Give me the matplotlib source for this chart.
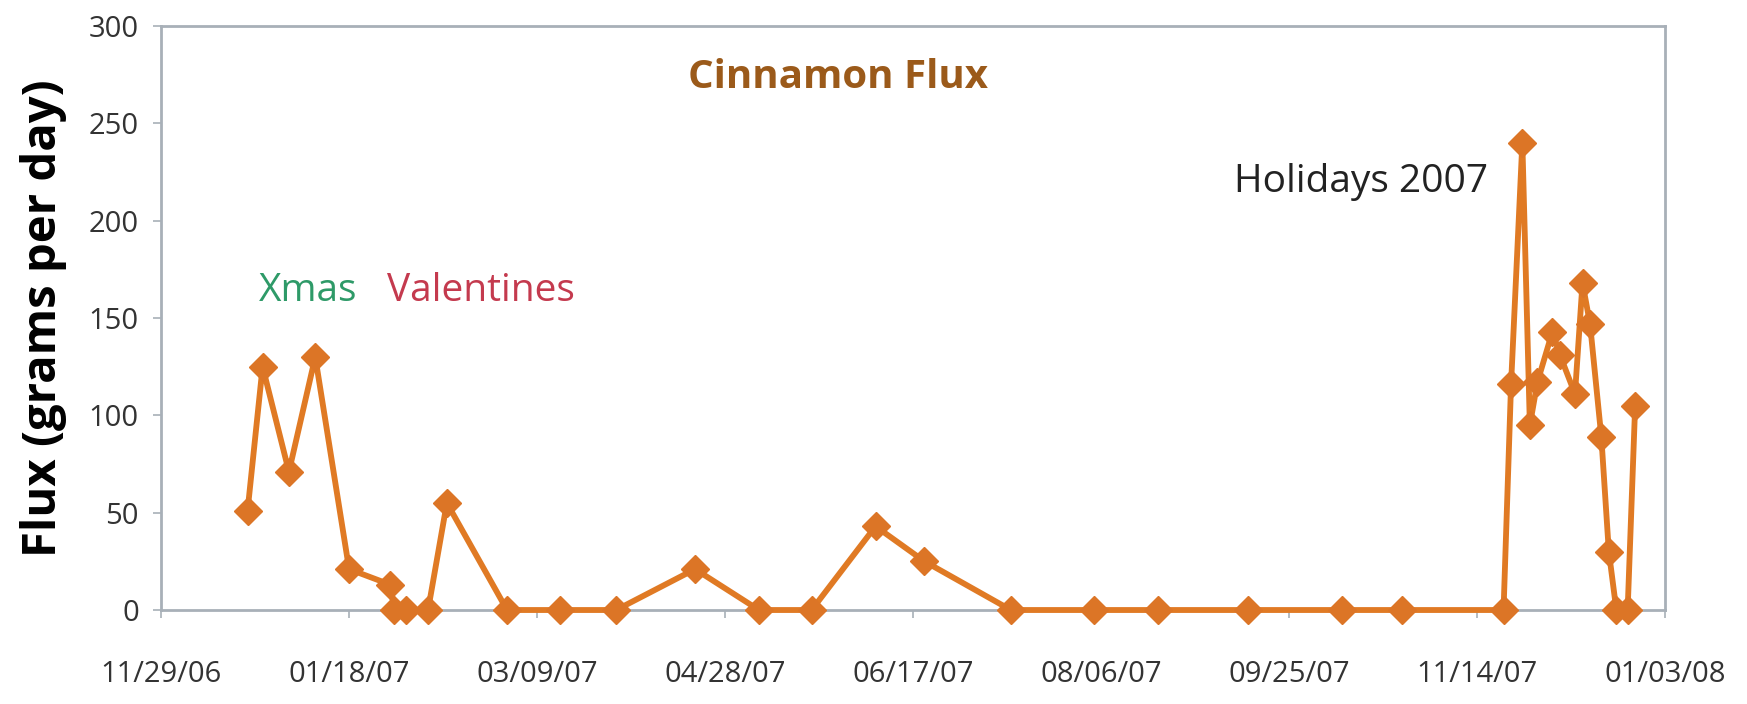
import numpy as np
import pandas as pd
import matplotlib
matplotlib.use("Agg")
import matplotlib.pyplot as plt
import matplotlib.dates as mdates

# cinnamon flux readings (grams per day)
dates = ["2006-12-22", "2006-12-26", "2007-01-02", "2007-01-09", "2007-01-18",
         "2007-01-29", "2007-01-30", "2007-02-02", "2007-02-08", "2007-02-13",
         "2007-03-01", "2007-03-15", "2007-03-30", "2007-04-20", "2007-05-07",
         "2007-05-21", "2007-06-07", "2007-06-20", "2007-07-13", "2007-08-04",
         "2007-08-21", "2007-09-14", "2007-10-09", "2007-10-25", "2007-11-21",
         "2007-11-23", "2007-11-26", "2007-11-28", "2007-11-30", "2007-12-04",
         "2007-12-06", "2007-12-10", "2007-12-12", "2007-12-14", "2007-12-17",
         "2007-12-19", "2007-12-21", "2007-12-24", "2007-12-26"]
flux = [51, 125, 71, 130, 21, 13, 0, 0, 0, 55,
        0, 0, 0, 21, 0, 0, 43, 25, 0, 0,
        0, 0, 0, 0, 0, 116, 240, 95, 117, 143,
        131, 111, 168, 147, 89, 30, 0, 0, 105]

notes = ["Xmas", "Valentines", "Holidays 2007"]
note_dates = ["2007-01-07", "2007-02-22", "2007-10-14"]
note_y = [164, 164, 220]
note_colors = ["#2E9A68", "#C43A4E", "#222222"]

x = pd.to_datetime(dates)

plt.rcParams['font.family'] = ['Open Sans', 'DejaVu Sans']
fig = plt.figure(figsize=(17.47, 7.04), dpi=100)
ax = fig.add_axes([0.0922, 0.1335, 0.861, 0.8295])

ax.plot(x, flux, color="#E07A24", lw=4.2, marker="D", markersize=14,
        markerfacecolor="#DC7526", markeredgecolor="#DC7526", clip_on=False,
        zorder=3)

start = pd.Timestamp("2006-11-29")
ticks = [start + pd.Timedelta(days=50 * i) for i in range(9)]
ax.set_xlim(ticks[0], ticks[-1])
ax.set_xticks(ticks)
ax.xaxis.set_major_formatter(mdates.DateFormatter("%m/%d/%y"))
ax.set_ylim(0, 300)
ax.set_yticks(np.arange(0, 301, 50))

for s in ax.spines.values():
    s.set_color("#A8B0B8")
    s.set_linewidth(2)
ax.tick_params(axis="both", colors="#A8B0B8", length=6, width=1.2,
               labelcolor="#333333", labelsize=21)
ax.tick_params(axis="x", pad=30)
ax.tick_params(axis="y", pad=10)

ax.set_ylabel("Flux (grams per day)", fontsize=34, fontweight="bold", labelpad=16)
ax.text(0.45, 0.912, "Cinnamon Flux", transform=ax.transAxes, ha="center",
        va="center", fontsize=29, fontweight="bold", color="#9B5A1A")

for t, d, yv, c in zip(notes, note_dates, note_y, note_colors):
    ax.text(pd.Timestamp(d), yv, t, ha="center", va="center", fontsize=28, color=c)

plt.savefig("out.png", dpi=100)
